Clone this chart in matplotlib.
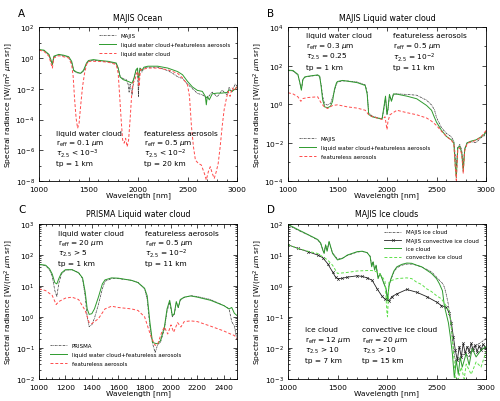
import numpy as np
import matplotlib
matplotlib.use('Agg')
import matplotlib.pyplot as plt
import matplotlib.ticker as ticker

# ---------------- panel A : MAJIS Ocean ----------------
a_green_wl = [1000, 1050, 1100, 1120, 1135, 1150, 1200, 1250, 1300, 1330, 1350, 1380, 1420, 1450, 1480,
              1500, 1550, 1600, 1700, 1780, 1800, 1820, 1850, 1900, 1940, 1960, 1980, 1995, 2005, 2020,
              2040, 2060, 2100, 2200, 2300, 2400, 2450, 2500, 2550, 2600, 2650, 2680, 2690, 2700, 2720,
              2750, 2800, 2850, 2900, 2920, 2950, 2980, 3000]
a_green = [3.5, 3.2, 1.7, 0.78, 0.37, 1.3, 1.7, 1.5, 1.2, 0.6, 0.16, 0.12, 0.10, 0.16, 0.47,
           0.68, 0.78, 0.7, 0.6, 0.47, 0.22, 0.057, 0.039, 0.030, 0.023, 0.05, 0.17, 0.22, 0.039, 0.22,
           0.16, 0.25, 0.29, 0.29, 0.22, 0.13, 0.081, 0.03, 0.013, 0.0078, 0.0067, 0.0032, 0.0009, 0.0032, 0.0019,
           0.0047, 0.0052, 0.0052, 0.0058, 0.0085, 0.0067, 0.0095, 0.013]

a_red_wl = [1000, 1050, 1100, 1120, 1135, 1150, 1200, 1300, 1330, 1345, 1360, 1375, 1390, 1405, 1420,
            1440, 1460, 1480, 1500, 1600, 1700, 1780, 1800, 1815, 1830, 1845, 1860, 1875, 1890, 1905,
            1920, 1935, 1950, 1970, 1985, 2000, 2010, 2025, 2060, 2100, 2200, 2300, 2400, 2450, 2500,
            2520, 2540, 2560, 2580, 2610, 2640, 2670, 2690, 2710, 2730, 2750, 2770, 2790, 2810, 2830,
            2850, 2870, 2890, 2910, 2930, 2950, 2980, 3000]
a_red = [3.2, 2.7, 1.3, 0.47, 0.22, 1.0, 1.4, 1.0, 0.37, 0.063, 0.0019, 1.2e-4, 2.7e-5, 5.8e-5, 7e-4,
         0.014, 0.10, 0.37, 0.6, 0.6, 0.53, 0.37, 0.10, 0.0032, 9.5e-5, 4.7e-6, 2.9e-6, 6e-6, 1.7e-6, 4.7e-6,
         9.5e-5, 0.0032, 0.023, 0.039, 0.10, 0.13, 0.014, 0.17, 0.19, 0.22, 0.22, 0.17, 0.10, 0.05, 0.018,
         0.0032, 3.5e-5, 1.7e-6, 2.3e-7, 1.4e-7, 1.1e-7, 3.2e-8, 1.2e-8, 4e-8, 8.6e-8, 3.2e-8, 1.5e-8, 4e-8, 1.4e-7, 1.7e-6,
         3.5e-5, 4.3e-4, 0.0019, 0.0067, 0.0032, 0.011, 0.0078, 0.016]

a_majis_wl = [1000, 1050, 1100, 1120, 1135, 1150, 1200, 1300, 1330, 1350, 1380, 1420, 1450, 1480, 1500,
              1550, 1600, 1700, 1780, 1800, 1820, 1850, 1880, 1900, 1910, 1920, 1940, 1950, 1960, 1980,
              1995, 2000, 2005, 2010, 2020, 2040, 2060, 2100, 2200, 2300, 2350, 2400, 2450, 2500, 2550,
              2600, 2650, 2700, 2750, 2800, 2850, 2900, 2920, 2950, 2980, 3000]
a_majis = [3.3, 3.0, 1.6, 0.6, 0.4, 1.2, 1.6, 1.1, 0.5, 0.15, 0.11, 0.10, 0.14, 0.4, 0.6,
           0.7, 0.65, 0.55, 0.42, 0.2, 0.06, 0.045, 0.04, 0.02, 0.006, 0.02, 0.004, 0.015, 0.05, 0.15,
           0.2, 0.02, 0.003, 0.05, 0.2, 0.12, 0.22, 0.25, 0.25, 0.15, 0.1, 0.06, 0.045, 0.02, 0.01,
           0.005, 0.004, 0.0025, 0.006, 0.003, 0.008, 0.004, 0.012, 0.006, 0.02, 0.015]

# ---------------- panel B : MAJIS Liquid water cloud ----------------
b_wl = [1000, 1050, 1100, 1120, 1135, 1150, 1170, 1200, 1300, 1320, 1335, 1350, 1370, 1400, 1430,
        1450, 1470, 1490, 1500, 1550, 1600, 1700, 1780, 1800, 1815, 1850, 1900, 1950, 1970, 1985,
        2000, 2010, 2025, 2045, 2065, 2100, 2200, 2300, 2400, 2450, 2480, 2500, 2550, 2600, 2650,
        2675, 2690, 2700, 2715, 2735, 2755, 2770, 2785, 2810, 2850, 2900, 2950, 2980, 3000]
b_green = [58, 56, 35, 13, 5.3, 19, 26, 28, 33, 28, 8, 1.7, 0.72, 0.65, 0.78,
           1.4, 6.2, 13, 15, 17, 15.6, 13, 9.3, 3.2, 0.29, 0.22, 0.19, 0.17, 0.78, 2.6,
           0.29, 0.6, 3.2, 1.4, 3.4, 3.3, 2.6, 1.9, 0.85, 0.48, 0.2, 0.115, 0.044, 0.021, 0.014,
           0.0098, 5.9e-4, 1.5e-4, 0.0054, 0.0065, 0.0029, 3.2e-4, 0.0044, 0.0098, 0.012, 0.014, 0.02, 0.026, 0.039]
b_majis = [55, 53, 33, 12, 6, 18, 25, 27, 32, 27, 10, 2.5, 1.0, 0.9, 1.1,
           2.2, 5, 11, 14, 16, 16, 14, 10, 4, 0.35, 0.24, 0.2, 0.17, 0.6, 2.2,
           0.3, 0.5, 2.8, 1.5, 3.2, 3.4, 3.2, 2.9, 1.6, 0.9, 0.5, 0.2, 0.06, 0.03, 0.02,
           0.012, 0.002, 6e-4, 0.006, 0.008, 0.004, 6e-4, 0.005, 0.01, 0.011, 0.01, 0.018, 0.022, 0.035]

b_red_wl = [1000, 1050, 1100, 1130, 1150, 1200, 1300, 1330, 1360, 1400, 1450, 1500, 1600, 1700, 1780,
            1820, 1900, 1950, 1980, 2000, 2010, 2030, 2100, 2200, 2300, 2400, 2450, 2500, 2550, 2600,
            2650, 2675, 2690, 2700, 2715, 2735, 2755, 2770, 2785, 2810, 2850, 2900, 2950, 3000]
b_red = [3.9, 3.4, 2.4, 1.4, 1.95, 2.2, 2.4, 1.26, 0.78, 0.59, 0.85, 0.92, 0.72, 0.62, 0.48,
         0.26, 0.19, 0.16, 0.22, 0.048, 0.13, 0.28, 0.48, 0.36, 0.28, 0.19, 0.13, 0.078, 0.039, 0.021,
         0.013, 0.009, 4.9e-4, 1.1e-4, 0.0044, 0.0054, 0.0024, 2.6e-4, 0.0037, 0.009, 0.011, 0.013, 0.02, 0.042]

# ---------------- panel C : PRISMA Liquid water cloud ----------------
c_wl = [1000, 1050, 1080, 1100, 1120, 1135, 1150, 1170, 1200, 1250, 1300, 1330, 1350, 1365, 1380,
        1400, 1420, 1450, 1480, 1500, 1550, 1600, 1700, 1750, 1800, 1820, 1840, 1860, 1880, 1900,
        1920, 1950, 1970, 1990, 2000, 2010, 2025, 2040, 2055, 2070, 2100, 2150, 2200, 2300, 2400,
        2440, 2460, 2480, 2500]
c_green = [49, 46, 35, 24, 12.6, 11.5, 17, 26, 33, 33, 26, 18, 6.3, 1.8, 1.2,
           1.26, 1.8, 4.3, 11.5, 15.5, 18, 17.6, 15, 12.6, 8.3, 4.7, 0.68, 0.15, 0.14, 0.135,
           0.17, 0.47, 1.8, 3.4, 2.0, 1.1, 1.26, 3.1, 2.0, 3.6, 4.3, 4.7, 4.3, 3.4, 2.3,
           1.8, 2.0, 1.3, 1.1]
c_prisma = [48, 45, 33, 20, 7, 4.5, 12, 24, 32, 33, 27, 17, 4.5, 1.0, 0.48,
            0.55, 0.9, 2.5, 8, 14, 17, 17, 15, 13, 8, 3.5, 0.5, 0.14, 0.07, 0.13,
            0.15, 0.4, 1.5, 3.0, 1.8, 1.0, 1.2, 2.9, 2.0, 3.4, 4.2, 4.8, 4.5, 3.6, 2.3,
            1.8, 0.7, 0.5, 0.18]

c_red_wl = [1000, 1050, 1100, 1130, 1150, 1200, 1250, 1300, 1350, 1380, 1400, 1450, 1500, 1550, 1600,
            1700, 1750, 1800, 1850, 1880, 1900, 1930, 1950, 1975, 2000, 2020, 2050, 2075, 2100, 2150,
            2200, 2300, 2400, 2450, 2480, 2500]
c_red = [8, 7, 4.9, 2.5, 3.1, 4, 4.3, 3.6, 1.6, 0.65, 0.6, 0.87, 1.8, 2.2, 2.0,
         1.8, 1.6, 1.0, 0.22, 0.12, 0.135, 0.32, 0.47, 0.28, 0.55, 0.32, 0.65, 0.47, 0.7, 0.74,
         0.7, 0.5, 0.35, 0.28, 0.25, 0.2]

# ---------------- panel D : MAJIS Ice clouds ----------------
d_ice_wl = [1000, 1100, 1200, 1300, 1330, 1350, 1365, 1380, 1395, 1415, 1430, 1450, 1500, 1550, 1600,
            1700, 1750, 1800, 1830, 1845, 1860, 1875, 1890, 1910, 1930, 1950, 1970, 1990, 2005, 2020,
            2040, 2070, 2100, 2150, 2200, 2250, 2300, 2350, 2400, 2450, 2500, 2530, 2560, 2580, 2600,
            2620, 2640, 2660, 2680, 2700, 2720, 2740, 2760, 2800, 2830, 2860, 2900, 2950, 3000]
d_ice = [95, 65, 45, 31, 24, 14.5, 11, 21, 13, 27, 18.5, 11, 6.8, 7.6, 9.8,
         12.6, 13, 11.7, 8.7, 4.1, 5.9, 3.2, 4.6, 1.7, 2.5, 1.7, 1.15, 0.8, 0.33, 1.0,
         1.7, 3.0, 4.1, 4.9, 5.4, 5.3, 4.6, 4.1, 3.2, 2.5, 1.7, 1.15, 0.69, 0.22, 0.12,
         0.065, 0.023, 0.0066, 0.0011, 0.004, 0.0014, 0.0051, 0.0024, 0.0066, 0.0028, 0.0095, 0.0051, 0.0085, 0.011]
d_majis_ice = [90, 62, 44, 30, 23, 15, 12, 20, 14, 25, 18, 11.5, 7.2, 7.8, 9.5,
               12.2, 12.8, 11.5, 9, 4.5, 6, 3.5, 4.4, 1.9, 2.4, 1.8, 1.2, 0.85, 0.4, 1.0,
               1.6, 2.8, 3.8, 4.6, 5.0, 5.0, 4.6, 4.0, 3.4, 2.8, 1.9, 1.5, 1.2, 0.9, 0.5,
               0.25, 0.08, 0.02, 0.006, 0.003, 0.005, 0.004, 0.006, 0.006, 0.005, 0.01, 0.012, 0.015, 0.02]

d_conv_wl = [1000, 1100, 1200, 1300, 1350, 1400, 1450, 1480, 1500, 1550, 1600, 1700, 1750, 1800, 1850,
             1900, 1950, 1980, 2000, 2020, 2050, 2100, 2200, 2300, 2400, 2500, 2550, 2600, 2630, 2650,
             2670, 2690, 2710, 2730, 2750, 2770, 2790, 2810, 2830, 2850, 2870, 2890, 2910, 2930, 2950,
             2970, 3000]
d_majis_conv = [21, 16, 12.6, 9.8, 8.1, 5.2, 2.8, 1.9, 1.7, 1.75, 1.9, 2.1, 2.0, 1.8, 1.5,
                0.8, 0.46, 0.37, 0.38, 0.33, 0.45, 0.55, 0.76, 0.62, 0.45, 0.3, 0.23, 0.2, 0.13, 0.065,
                0.023, 0.0085, 0.004, 0.011, 0.0051, 0.014, 0.0066, 0.011, 0.0075, 0.014, 0.0085, 0.012, 0.0075, 0.0115, 0.0085,
                0.013, 0.0097]

d_conv_sim_wl = [1000, 1100, 1200, 1300, 1400, 1450, 1500, 1600, 1700, 1800, 1850, 1900, 1950, 1980, 2000,
                 2005, 2020, 2050, 2100, 2200, 2250, 2300, 2350, 2400, 2450, 2500, 2550, 2600, 2630, 2650,
                 2670, 2690, 2720, 2750, 2780, 2800, 2850, 2900, 2950, 3000]
d_conv_sim = [21, 16, 13, 11, 6.8, 4.6, 2.5, 2.7, 3.0, 3.1, 3.1, 2.8, 2.0, 1.4, 0.13,
              0.1, 1.3, 1.5, 1.7, 1.8, 1.7, 1.3, 1.1, 0.8, 0.65, 0.48, 0.38, 0.22, 0.14, 0.05,
              0.0085, 0.001, 0.001, 0.0024, 0.001, 0.003, 0.0014, 0.0035, 0.0024, 0.0075]

# ---------------- styles ----------------
green = '#2e9a2e'
red = '#ff4a4a'
lightgreen = '#5ee04a'
fs = 5.4

plt.rcParams['font.family'] = 'DejaVu Sans'
plt.rcParams['mathtext.fontset'] = 'dejavusans'

fig = plt.figure(figsize=(5.0, 4.02), dpi=100)
axA = fig.add_axes([0.078, 0.547, 0.396, 0.383])
axB = fig.add_axes([0.576, 0.547, 0.396, 0.383])
axC = fig.add_axes([0.078, 0.055, 0.396, 0.386])
axD = fig.add_axes([0.576, 0.055, 0.396, 0.386])


def style_axis(ax, title, xlim, ylim, ymajor, yminor, xmajor, xminor):
    ax.set_yscale('log')
    ax.set_xlim(xlim)
    ax.set_ylim(ylim)
    ax.yaxis.set_major_locator(ticker.FixedLocator(ymajor))
    ax.yaxis.set_major_formatter(ticker.FuncFormatter(lambda v, p: r'$10^{%d}$' % round(np.log10(v))))
    ax.yaxis.set_minor_locator(yminor)
    ax.yaxis.set_minor_formatter(ticker.NullFormatter())
    ax.xaxis.set_major_locator(ticker.MultipleLocator(xmajor))
    ax.xaxis.set_minor_locator(ticker.MultipleLocator(xminor))
    ax.tick_params(which='both', direction='in', top=True, right=True, labelsize=fs, width=0.5)
    ax.tick_params(axis='y', pad=3.2)
    ax.tick_params(axis='x', pad=3.5)
    ax.tick_params(which='major', length=3)
    ax.tick_params(which='minor', length=1.6)
    for s in ax.spines.values():
        s.set_linewidth(0.6)
    ax.set_title(title, fontsize=5.7, pad=5.5)
    ax.set_xlabel('Wavelength [nm]', fontsize=fs, labelpad=-0.5)
    ax.set_ylabel(r'Spectral radiance [W/(m$^2$ $\mu$m sr)]', fontsize=fs, labelpad=0.5)


def add_block(ax, x, ys, lines):
    for y, t in zip(ys, lines):
        ax.text(x, y, t, transform=ax.transAxes, fontsize=5.3, va='center', ha='left')


dashdot = dict(color='#333333', lw=0.5, dashes=(3, 1, 1, 1))

# ---- A ----
style_axis(axA, 'MAJIS Ocean', (1000, 3000), (1e-8, 1e2),
           [10.0**k for k in range(-8, 3, 2)],
           ticker.FixedLocator([10.0**k for k in range(-7, 2, 2)]), 500, 100)
axA.plot(a_majis_wl, a_majis, label='MAJIS', **dashdot)
axA.plot(a_green_wl, a_green, color=green, lw=0.7, label='liquid water cloud+featureless aerosols')
axA.plot(a_red_wl, a_red, color=red, lw=0.7, dashes=(3, 2), label='liquid water cloud')
axA.legend(loc='upper right', bbox_to_anchor=(0.99, 0.995), frameon=False, fontsize=4,
           handlelength=3.0, handletextpad=0.9, labelspacing=0.75)
add_block(axA, 0.086, [0.312, 0.247, 0.182, 0.117],
          ['liquid water cloud', r'r$_{\rm eff}$ = 0.1 $\mu$m', r'$\tau_{2.5}$ < 10$^{-3}$', 'tp = 1 km'])
add_block(axA, 0.53, [0.312, 0.247, 0.182, 0.117],
          ['featureless aerosols', r'r$_{\rm eff}$ = 0.5 $\mu$m', r'$\tau_{2.5}$ < 10$^{-2}$', 'tp = 20 km'])

# ---- B ----
style_axis(axB, 'MAJIS Liquid water cloud', (1000, 3000), (1e-4, 1e4),
           [10.0**k for k in range(-4, 5, 2)],
           ticker.FixedLocator([10.0**k for k in range(-3, 4, 2)]), 500, 100)
axB.plot(b_wl, b_majis, label='MAJIS', **dashdot)
axB.plot(b_wl, b_green, color=green, lw=0.7, label='liquid water cloud+featureless aerosols')
axB.plot(b_red_wl, b_red, color=red, lw=0.7, dashes=(3, 2), label='featureless aerosols')
axB.legend(loc='lower left', bbox_to_anchor=(0.03, 0.11), frameon=False, fontsize=4,
           handlelength=3.0, handletextpad=0.9, labelspacing=0.75)
add_block(axB, 0.09, [0.948, 0.879, 0.81, 0.742],
          ['liquid water cloud', r'r$_{\rm eff}$ = 0.3 $\mu$m', r'$\tau_{2.5}$ = 0.25', 'tp = 1 km'])
add_block(axB, 0.53, [0.948, 0.879, 0.81, 0.742],
          ['featureless aerosols', r'r$_{\rm eff}$ = 0.5 $\mu$m', r'$\tau_{2.5}$ = 10$^{-2}$', 'tp = 11 km'])

# ---- C ----
style_axis(axC, 'PRISMA Liquid water cloud', (1000, 2500), (1e-2, 1e3),
           [10.0**k for k in range(-2, 4)],
           ticker.LogLocator(base=10, subs=np.arange(2, 10), numticks=20), 200, 50)
axC.plot(c_wl, c_prisma, label='PRISMA', **dashdot)
axC.plot(c_wl, c_green, color=green, lw=0.7, label='liquid water cloud+featureless aerosols')
axC.plot(c_red_wl, c_red, color=red, lw=0.7, dashes=(3, 2), label='featureless aerosols')
axC.legend(loc='lower left', bbox_to_anchor=(0.03, 0.05), frameon=False, fontsize=4,
           handlelength=3.0, handletextpad=0.9, labelspacing=0.75)
add_block(axC, 0.094, [0.94, 0.875, 0.81, 0.746],
          ['liquid water cloud', r'r$_{\rm eff}$ = 20 $\mu$m', r'$\tau_{2.5}$ > 5', 'tp = 1 km'])
add_block(axC, 0.534, [0.94, 0.875, 0.81, 0.746],
          ['featureless aerosols', r'r$_{\rm eff}$ = 0.5 $\mu$m', r'$\tau_{2.5}$ = 10$^{-2}$', 'tp = 11 km'])

# ---- D ----
style_axis(axD, 'MAJIS Ice clouds', (1000, 3000), (1e-3, 1e2),
           [10.0**k for k in range(-3, 3)],
           ticker.LogLocator(base=10, subs=np.arange(2, 10), numticks=20), 500, 100)
axD.plot(d_ice_wl, d_majis_ice, label='MAJIS ice cloud', **dashdot)
axD.plot(d_conv_wl, d_majis_conv, color='#222222', lw=0.6, marker='x', ms=2, mew=0.4,
         label='MAJIS convective ice cloud')
axD.plot(d_ice_wl, d_ice, color=green, lw=0.7, label='ice cloud')
axD.plot(d_conv_sim_wl, d_conv_sim, color=lightgreen, lw=0.7, dashes=(3, 2), label='convective ice cloud')
axD.legend(loc='upper right', bbox_to_anchor=(0.99, 0.995), frameon=False, fontsize=4,
           handlelength=3.0, handletextpad=0.9, labelspacing=0.6)
add_block(axD, 0.086, [0.323, 0.254, 0.187, 0.12],
          ['ice cloud', r'r$_{\rm eff}$ = 12 $\mu$m', r'$\tau_{2.5}$ > 10', 'tp = 7 km'])
add_block(axD, 0.375, [0.323, 0.254, 0.187, 0.12],
          ['convective ice cloud', r'r$_{\rm eff}$ = 20 $\mu$m', r'$\tau_{2.5}$ > 10', 'tp = 15 km'])

# panel letters
for lab, x, y in [('A', 0.036, 0.965), ('B', 0.534, 0.965), ('C', 0.036, 0.478), ('D', 0.534, 0.478)]:
    fig.text(x, y, lab, fontsize=7.5, ha='left', va='center')

fig.savefig('out.png', dpi=100)
